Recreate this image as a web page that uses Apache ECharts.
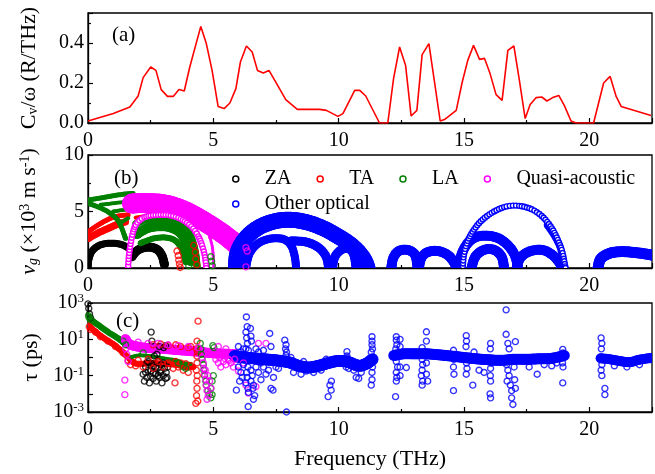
<!DOCTYPE html>
<html><head><meta charset="utf-8">
<script src="https://cdn.jsdelivr.net/npm/echarts@6/dist/echarts.min.js"></script>
<style>html,body{margin:0;padding:0;background:#fff}#c{width:655px;height:474px}</style>
</head><body><div id="c"></div>
<script>
// ---------- DATA ----------
// (a) Cv/omega vs frequency
const cvFreq = [0,1.01,1.67,2.0,2.2,2.5,2.71,2.92,3.17,3.4,3.63,3.84,4.06,4.5,4.72,4.95,5.19,5.43,5.66,5.9,6.08,6.32,6.55,6.76,6.99,7.22,7.45,7.89,8.35,9.24,9.51,9.97,10.17,10.64,10.84,11.08,11.63,11.96,12.19,12.43,12.67,12.89,13.12,13.33,13.6,14.05,14.22,14.69,14.93,15.15,15.38,15.62,15.82,16.04,16.28,16.52,16.75,16.99,17.21,17.44,17.64,17.88,18.1,18.31,18.54,18.78,19.0,19.27,19.47,20.17,20.57,20.83,21.07,21.27,22.46];
const cvVal  = [0.01,0.047,0.08,0.135,0.227,0.28,0.263,0.167,0.133,0.133,0.167,0.16,0.28,0.483,0.397,0.263,0.083,0.072,0.1,0.172,0.305,0.385,0.355,0.263,0.25,0.263,0.213,0.117,0.068,0.068,0.063,0.033,0.047,0.163,0.163,0.135,0.0,0.0,0.222,0.38,0.288,0.035,0.063,0.342,0.397,0.01,0.017,0.063,0.205,0.313,0.388,0.318,0.323,0.247,0.142,0.113,0.363,0.385,0.213,0.022,0.092,0.127,0.13,0.11,0.127,0.138,0.088,0.01,0.0,0.0,0.2,0.233,0.133,0.083,0.038];

// (b) group velocity (10^3 m/s): dense arcs of points, listed as traced arcs
const vgZA = [
  [[0.0,0.0],[0.05,0.9],[0.2,1.6],[0.5,2.05],[0.9,2.2],[1.3,2.1],[1.6,1.8]],
  [[1.75,1.0],[2.0,1.6],[2.4,1.85],[2.75,1.65],[2.95,1.1],[3.05,0.3]]
];
const vgTA = [
  [[0.0,3.2],[0.4,3.8],[0.8,4.3],[1.2,4.6],[1.6,4.7]],
  [[0.0,2.6],[0.4,3.1],[0.8,3.5],[1.2,3.9],[1.5,4.1]],
  [[1.9,4.45],[2.5,4.65],[3.2,4.6],[3.7,4.1],[4.0,3.3],[4.2,2.3],[4.33,1.2],[4.4,0.1]]
];
const vgTAPts = [[3.55,1.5],[3.6,1.1],[3.62,0.7],[3.65,0.35],[3.68,0.05],[4.22,2.0],[4.28,1.4],[4.3,0.8],[4.34,0.3]];
const vgLA = [
  [[0.0,6.0],[0.5,6.2],[1.0,6.4],[1.5,6.55],[1.8,6.6]],
  [[0.1,5.65],[0.7,5.1],[1.2,4.2],[1.5,2.6]],
  [[0.5,5.6],[1.1,5.75],[1.6,5.9]],
  [[1.0,5.0],[1.3,5.1],[1.6,5.2]],
  [[1.3,4.0],[1.45,4.2],[1.6,4.4]],
  [[1.9,3.9],[2.3,4.25],[3.0,4.35],[3.5,4.1],[3.9,3.5],[4.15,2.5],[4.3,1.2],[4.35,0.1]],
  [[1.95,3.0],[2.4,3.55],[3.0,3.7],[3.5,3.4],[3.8,2.8],[4.0,1.8],[4.1,0.6]],
  [[2.1,2.2],[2.6,2.6],[3.1,2.7],[3.5,2.4],[3.75,1.6],[3.9,0.5]]
];
const vgLAPts = [[3.95,1.4],[3.97,1.0],[4.0,0.6],[4.02,0.2],[4.9,1.0],[4.93,0.6],[4.96,0.2]];
const vgQA = [
  [[1.75,5.7],[2.2,5.75],[3.0,5.65],[3.7,5.2],[4.3,4.55],[4.9,3.75],[5.4,3.0],[5.75,2.4],[5.95,2.0]],
  [[4.85,2.8],[4.95,2.0],[5.0,1.0],[5.02,0.0]]
];
const vgQAArc = [[1.6,0.0],[1.62,0.8],[1.66,1.6],[1.72,2.4],[1.8,3.2],[1.9,3.8],[2.05,4.2],[2.25,4.5],[2.5,4.65],[2.8,4.7],[3.1,4.7],[3.4,4.6],[3.7,4.35],[3.95,4.0],[4.2,3.5],[4.4,2.8],[4.55,2.0],[4.65,1.2],[4.7,0.5],[4.72,0.0]];
const vgQAPts = [[6.3,1.8],[6.35,1.5],[6.3,0.1]];
const vgOpt = [
  [[5.9,0.0],[5.95,1.2],[6.15,2.2],[6.5,3.1],[7.0,3.8],[7.6,4.2],[8.2,4.25],[8.8,4.0],[9.4,3.5],[9.9,2.9],[10.4,2.2],[10.8,1.4],[11.05,0.6],[11.15,0.0]],
  [[6.3,0.0],[6.45,1.3],[6.8,2.2],[7.3,2.6],[7.8,2.55],[8.1,2.0],[8.25,1.0],[8.3,0.0]],
  [[8.1,2.4],[8.7,2.3],[9.2,1.8],[9.5,1.0],[9.6,0.0]],
  [[9.75,0.0],[9.85,1.0],[10.1,1.6],[10.4,1.7],[10.6,1.2],[10.7,0.0]],
  [[12.1,0.0],[12.18,0.9],[12.4,1.5],[12.75,1.6],[13.05,1.15],[13.15,0.0]],
  [[13.2,0.0],[13.3,0.9],[13.55,1.4],[13.95,1.5],[14.35,1.15],[14.6,0.5],[14.7,0.0]],
  [[18.3,3.8],[18.6,2.8],[18.85,1.6],[18.95,0.0]],
  [[14.8,0.0],[14.9,1.2],[15.15,2.2],[15.5,2.75],[15.95,2.85],[16.4,2.6],[16.8,1.9],[17.05,1.0],[17.15,0.0]],
  [[15.3,0.0],[15.45,1.0],[15.8,1.6],[16.2,1.6],[16.5,1.0],[16.6,0.0]],
  [[17.1,0.0],[17.25,0.9],[17.6,1.45],[18.1,1.6],[18.5,1.2],[18.8,0.5],[18.9,0.0]],
  [[20.35,0.0],[20.45,0.8],[20.8,1.3],[21.3,1.45],[21.9,1.35],[22.5,1.15]]
];
const vgOptArc = [[14.95,0.0],[15.0,1.2],[15.15,2.4],[15.4,3.4],[15.75,4.3],[16.2,5.0],[16.7,5.45],[17.2,5.5],[17.7,5.2],[18.1,4.6],[18.45,3.7],[18.7,2.7],[18.9,1.6],[19.0,0.6],[19.05,0.0]];

// (c) lifetime tau (ps)
const tauZA = [[0.0,900],[0.03,500],[0.06,250],[0.1,150],[2.2,0.12],[2.25,0.05],[2.3,0.3],[2.35,0.08],[2.4,0.6],[2.45,0.04],[2.5,0.18],[2.52,25],[2.55,8],[2.6,0.07],[2.62,0.35],[2.65,1.2],[2.7,0.12],[2.72,0.05],[2.78,0.25],[2.8,0.6],[2.85,0.08],[2.88,0.15],[2.92,0.4],[2.95,0.04],[3.0,0.1],[3.02,3.5],[3.05,0.25],[3.1,0.07],[3.12,0.15],[3.18,0.3],[2.3,0.15],[2.4,0.2],[2.5,0.09],[2.6,0.14],[2.7,0.3],[2.8,0.1],[2.9,0.2],[3.0,0.5],[2.35,0.5],[2.55,0.45],[2.75,1.5],[3.15,0.08],[2.85,4],[3.1,4.5]];
const tauTABand = [[0.0,70],[0.15,40],[0.4,20],[0.7,10],[1.0,5.5],[1.3,2.5],[1.6,1.0],[1.85,0.5],[2.1,0.45],[2.5,0.5],[3.0,0.45],[3.5,0.4],[3.9,0.3],[4.2,0.3]];
const tauTA = [[0.05,50],[0.1,35],[0.3,25],[0.5,14],[0.8,8],[1.1,4],[1.4,1.8],[1.6,0.7],[1.7,0.4],[1.9,0.35],[2.0,0.7],[2.2,0.3],[2.4,0.8],[2.6,0.25],[2.8,0.6],[3.0,0.3],[3.2,0.5],[3.4,0.25],[3.47,0.04],[3.5,0.6],[3.6,0.3],[3.7,0.5],[3.8,0.2],[3.9,0.45],[4.0,0.15],[4.1,0.35],[2.6,5],[2.9,5.5],[3.2,4.5],[3.5,5],[3.7,4],[4.0,3.5],[4.1,4],[4.33,3],[4.35,1.2],[4.35,0.5],[4.32,0.2],[4.36,0.1],[4.34,0.05],[4.35,0.02],[4.33,0.008],[4.38,0.004],[4.3,0.003],[4.39,100],[4.35,8],[4.37,2]];
const tauLABand1 = [[0.0,180],[0.2,100],[0.5,50],[0.8,25],[1.1,14],[1.3,9],[1.45,6]];
const tauLABand2 = [[1.7,1.0],[2.0,1.3],[2.5,1.2],[3.0,0.9],[3.5,0.7],[3.8,0.5],[4.1,0.45]];
const tauLA = [[0.02,200],[0.05,150],[0.1,120],[4.48,6],[4.5,3],[4.52,1.5],[4.55,0.8],[4.6,0.4],[4.62,0.2],[4.65,0.1],[4.7,0.05],[4.72,0.03],[4.78,0.015],[4.85,0.01],[4.9,0.006],[4.95,0.009],[4.9,0.02],[4.98,4.5],[5.02,3.5],[4.95,0.05],[5.0,0.1],[3.8,0.3],[3.9,0.25],[3.6,0.5],[2.2,1.8],[1.5,5],[1.4,8]];
const tauQABand = [[1.5,10],[1.6,6],[1.8,4.5],[2.2,3.5],[2.6,3.2],[3.0,3.0],[3.5,2.6],[4.0,2.3],[4.5,2.0],[5.0,1.7],[5.5,1.6],[5.9,1.5]];
const tauQA = [[1.47,12],[1.5,3],[1.55,1.5],[1.47,0.057],[1.47,0.009],[1.6,0.6],[2.0,7],[2.4,6],[2.8,6],[3.2,5],[3.6,4.5],[4.0,4],[4.4,3.5],[4.55,1],[4.6,0.5],[4.62,0.25],[4.65,0.12],[4.7,0.06],[4.72,0.03],[4.75,0.015],[4.8,0.008],[4.75,0.005],[4.68,0.2],[4.78,0.1],[4.85,0.05],[4.9,0.02],[5.1,0.8],[5.2,0.5],[5.3,0.3],[5.4,0.6],[5.5,0.4],[5.6,0.8],[5.7,0.5],[5.8,0.3],[5.25,1],[5.45,0.9],[5.65,0.7],[5.85,0.8],[5.2,4],[5.5,3],[6.0,0.18],[6.3,0.03],[6.4,0.011],[6.7,0.025],[6.8,6],[7.1,6],[6.2,0.5]];
const tauOptBands = [
  [[5.85,1.2],[6.2,1.0],[6.6,0.9],[7.0,0.8],[7.5,0.7],[8.0,0.55],[8.4,0.35],[8.8,0.28],[9.2,0.35],[9.6,0.5],[10.0,0.65],[10.4,0.55],[10.8,0.35],[11.1,0.45],[11.35,0.8]],
  [[12.2,1.3],[12.6,1.6],[13.0,1.6],[13.5,1.6],[14.0,1.4],[14.5,1.2],[15.0,1.0],[15.5,0.85],[16.0,0.75],[16.5,0.7],[17.0,0.8],[17.5,0.8],[18.0,0.85],[18.5,0.9],[19.0,1.3]],
  [[20.45,0.9],[20.8,0.8],[21.2,0.65],[21.6,0.55],[22.0,0.75],[22.5,0.95]]
];
const tauOpt = [[6.32,170],[6.35,50],[6.3,25],[6.33,12],[6.36,6],[6.3,3],[6.38,0.3],[6.33,0.15],[6.35,0.08],[6.3,0.04],[6.38,0.02],[6.4,0.012],[6.39,0.002],
[6.48,40],[6.5,15],[6.52,8],[6.5,0.2],[6.55,0.1],[6.5,0.05],[6.58,0.02],[6.6,0.005],[6.65,0.008],
[5.92,0.016],[6.05,0.05],[6.0,0.3],[6.1,0.15],[6.2,0.4],[6.15,0.08],[6.7,0.3],[6.8,0.15],[6.9,0.06],[7.0,0.3],[7.1,0.12],[7.2,0.2],[7.3,0.02],[7.38,0.016],[7.5,0.3],[6.0,4],[6.2,3],[6.7,3],[7.0,2.5],[6.9,0.5],[7.4,0.08],[6.6,0.03],[7.6,0.25],[6.1,2],[6.4,2.5],[6.8,2],[7.25,21],[7.3,4],
[7.85,9],[7.9,5],[7.88,3],[7.92,2],[7.9,1.3],[7.92,0.001],
[8.2,0.15],[8.5,0.12],[8.7,0.18],[9.0,0.15],[9.3,0.2],[8.1,1.0],[8.6,0.6],[9.5,0.8],
[9.58,0.007],[9.7,0.016],[9.71,0.05],[9.65,0.03],
[10.33,2.1],[10.33,1.2],[10.35,0.9],[10.3,0.3],[10.4,0.25],[10.7,0.08],[10.8,0.07],[10.6,0.2],[10.9,0.15],
[11.33,14],[11.33,8],[11.33,5],[11.35,3],[11.3,2],[11.35,0.3],[11.33,0.15],[11.33,0.06],[11.3,0.03],
[12.3,14],[12.3,9],[12.32,5],[12.28,3],[12.3,0.6],[12.35,0.3],[12.3,0.15],[12.32,0.08],[12.3,0.05],[12.27,0.007],[12.45,10],[12.45,4],[12.45,0.3],[12.45,0.1],[12.7,0.28],[12.75,1.8],
[13.33,3.5],[13.33,0.8],[13.35,0.4],[13.33,0.2],[13.3,0.1],[13.35,0.05],[13.33,0.03],[13.5,26],[13.5,8],[13.5,0.5],[13.5,0.12],[13.55,0.05],
[14.58,2.5],[14.6,0.8],[14.58,0.3],[14.6,0.12],[14.58,0.015],
[15.09,16],[15.1,8],[15.08,4],[15.1,0.5],[15.12,0.25],[15.09,0.12],[15.35,0.03],[15.4,2],[15.6,0.2],[15.8,0.15],
[16.06,6],[16.05,3],[16.08,0.5],[16.06,0.25],[16.05,0.1],[16.06,0.05],[16.04,0.01],[16.06,0.006],
[16.68,420],[16.68,19],[16.75,6],[16.8,3],[16.7,0.4],[16.75,0.2],[16.8,0.1],[16.72,0.05],[16.85,0.03],[16.9,0.015],[16.95,0.0026],[17.05,7.5],[17.0,0.3],[17.02,0.06],[17.05,0.02],[16.9,0.006],
[17.92,0.12],[17.6,0.3],[18.2,0.4],[18.5,0.35],[18.7,0.5],
[18.94,2.8],[18.95,1.8],[18.93,0.5],[18.95,0.3],[18.94,0.04],
[20.47,12],[20.5,6],[20.48,3],[20.5,0.4],[20.47,0.2],[20.5,0.1],[20.62,0.02],[20.62,0.009],
[21.0,0.35],[21.5,0.3],[22.0,0.4]];

const legendNames = ['ZA','TA','LA','Quasi-acoustic','Other optical'];
const colors = {'ZA':'#000000','TA':'#ff0000','LA':'#008000','Quasi-acoustic':'#ff00ff','Other optical':'#0000ff'};

// ---------- CHART ----------
const FONT = 'Liberation Serif';
const chart = echarts.init(document.getElementById('c'), null, {renderer:'canvas'});

// render helper: Catmull-Rom path through the pixel positions given by the axis scales, sampled every ~step px
function curve(P, step) {
  if (P.length < 2) return P;
  const out = [];
  for (let i = 0; i < P.length - 1; i++) {
    const p0 = P[Math.max(0, i - 1)], p1 = P[i], p2 = P[i + 1], p3 = P[Math.min(P.length - 1, i + 2)];
    const seg = Math.max(2, Math.ceil(Math.hypot(p2[0] - p1[0], p2[1] - p1[1]) / step));
    for (let k = 0; k < seg; k++) {
      const t = k / seg, t2 = t * t, t3 = t2 * t;
      const f = (a, b, c, d) => 0.5 * (2 * b + (-a + c) * t + (2 * a - 5 * b + 4 * c - d) * t2 + (-a + 3 * b - 3 * c + d) * t3);
      out.push([f(p0[0], p1[0], p2[0], p3[0]), f(p0[1], p1[1], p2[1], p3[1])]);
    }
  }
  out.push(P[P.length - 1]);
  return out;
}
// dense band of overlapping points: many overlapping filled discs along the traced points
function band(name, pts, w, xi) {
  return {type:'custom', name, xAxisIndex:xi, yAxisIndex:xi, data:[pts[0]], silent:true, clip:true,
    itemStyle:{color:colors[name]},
    renderItem:(params, api)=>{
      const C = curve(pts.map(p=>api.coord(p)), 1.5);
      return {type:'group', silent:true, children: C.map(c=>({type:'circle', silent:true,
        shape:{cx:c[0], cy:c[1], r:w/2}, style:{fill:colors[name], stroke:null}}))};
    }};
}
// a visible rim of touching hollow circles
function dotted(name, pts, xi) {
  return {type:'custom', name, xAxisIndex:xi, yAxisIndex:xi, data:[pts[0]], silent:true, clip:true,
    itemStyle:{color:colors[name]},
    renderItem:(params, api)=>{
      const C = curve(pts.map(p=>api.coord(p)), 3.2);
      return {type:'group', silent:true, children: C.map(c=>({type:'circle', silent:true,
        shape:{cx:c[0], cy:c[1], r:2.5}, style:{fill:'#ffffff', stroke:colors[name], lineWidth:1.4}}))};
    }};
}
function scat(name, pts, xi) {
  return {type:'scatter', name, xAxisIndex:xi, yAxisIndex:xi, data:pts, symbol:'circle', symbolSize:6, silent:true,
    emphasis:{disabled:true},
    itemStyle:{color:'rgba(255,255,255,0)', borderColor:colors[name], borderWidth:1.4}};
}

const series = [];
// (a)
series.push({type:'line', xAxisIndex:0, yAxisIndex:0, data:cvFreq.map((f,i)=>[f,cvVal[i]]), symbol:'none', showSymbol:false,
  lineStyle:{color:'#ff0000', width:1.6}, silent:true});
// (b)
const wZA=[7,9], wTA=[5,7,4], wLA=[5,5,4,4,4,7,10,6], wQA=[20,3], wOpt=[16,8,9,9,10,10,6,10,10,10,11];
vgZA.forEach((b,i)=>series.push(band('ZA', b, wZA[i], 1)));
vgTA.forEach((b,i)=>series.push(band('TA', b, wTA[i], 1)));
series.push(scat('TA', vgTAPts, 1));
vgLA.forEach((b,i)=>series.push(band('LA', b, wLA[i], 1)));
series.push(scat('LA', vgLAPts, 1));
vgQA.forEach((b,i)=>series.push(band('Quasi-acoustic', b, wQA[i], 1)));
series.push(dotted('Quasi-acoustic', vgQAArc, 1));
series.push(scat('Quasi-acoustic', vgQAPts, 1));
vgOpt.forEach((b,i)=>series.push(band('Other optical', b, wOpt[i], 1)));
series.push(dotted('Other optical', vgOptArc, 1));
// (c)
series.push(scat('ZA', tauZA, 2));
series.push(band('TA', tauTABand, 6, 2));
series.push(scat('TA', tauTA, 2));
series.push(band('LA', tauLABand1, 6, 2));
series.push(band('LA', tauLABand2, 4, 2));
series.push(scat('LA', tauLA, 2));
series.push(band('Quasi-acoustic', tauQABand, 10, 2));
series.push(scat('Quasi-acoustic', tauQA, 2));
tauOptBands.forEach((b,i)=>series.push(band('Other optical', b, [12,11,10][i], 2)));
series.push(scat('Other optical', tauOpt, 2));

const axisCommon = {
  axisLine:{show:true, onZero:false, lineStyle:{color:'#000', width:1.3}},
  axisTick:{show:true, inside:true, length:5, lineStyle:{color:'#000', width:1.2}},
  minorTick:{show:true, splitNumber:2, length:3, lineStyle:{color:'#000', width:1.2}},
  splitLine:{show:false}, minorSplitLine:{show:false},
  axisLabel:{fontFamily:FONT, fontSize:20, color:'#000', showMaxLabel:false}
};
function xAx(i, extra) {
  return Object.assign({type:'value', gridIndex:i, min:0, max:22.5, interval:5}, JSON.parse(JSON.stringify(axisCommon)), extra||{});
}
const xAxes = [xAx(0), xAx(1), xAx(2, {name:'Frequency (THz)', nameLocation:'middle', nameGap:36,
  nameTextStyle:{fontFamily:FONT, fontSize:22, color:'#000'}})];
xAxes.forEach(a=>{a.axisLabel.margin=8;});

const nameStyle = (rich)=>({fontFamily:FONT, fontSize:22, color:'#000', rich});
const yA = Object.assign({type:'value', gridIndex:0, min:0, max:0.55, interval:0.2}, JSON.parse(JSON.stringify(axisCommon)));
yA.axisLabel.formatter = v=>v.toFixed(1); yA.axisLabel.margin = 4;
yA.name = 'C{sub|v}/ω (R/THz)'; yA.nameLocation='middle'; yA.nameGap=48; yA.nameRotate=90;
yA.nameTextStyle = nameStyle({sub:{fontFamily:FONT, fontSize:14, verticalAlign:'bottom', lineHeight:22, padding:[8,0,0,0]}});
const yB = Object.assign({type:'value', gridIndex:1, min:0, max:10, interval:5}, JSON.parse(JSON.stringify(axisCommon)));
yB.axisLabel.showMaxLabel = true; yB.axisLabel.margin = 4;
yB.name = '{i|v}{isub|g} (×10{sup|3} m s{sup|-1})'; yB.nameLocation='middle'; yB.nameGap=48; yB.nameRotate=90;
yB.nameTextStyle = nameStyle({
  i:{fontFamily:FONT, fontSize:22, fontStyle:'italic'},
  isub:{fontFamily:FONT, fontSize:14, fontStyle:'italic', verticalAlign:'bottom', padding:[8,0,0,0]},
  sup:{fontFamily:FONT, fontSize:14, verticalAlign:'top', padding:[0,0,8,0]}});
const yC = Object.assign({type:'log', logBase:10, gridIndex:2, min:0.001, max:1000, splitNumber:6}, JSON.parse(JSON.stringify(axisCommon)));
yC.minorTick = {show:false};
yC.axisLabel.showMaxLabel = true; yC.axisLabel.margin = 4;
yC.axisLabel.formatter = v=>{const e=Math.round(Math.log10(v)); return (e%2===0)?'':'10{s|'+e+'}';};
yC.axisLabel.rich = {s:{fontFamily:FONT, fontSize:13, verticalAlign:'top', padding:[0,0,9,0]}};
yC.name = 'τ (ps)'; yC.nameLocation='middle'; yC.nameGap=46; yC.nameRotate=90;
yC.nameTextStyle = nameStyle({});

const legendData = legendNames.map(n=>({name:n, icon:'circle',
  itemStyle:{color:'#ffffff', borderColor:colors[n], borderWidth:1.5, opacity:1}}));
const legStyle = {orient:'horizontal', itemWidth:30, itemHeight:6, itemGap:25, selectedMode:false,
  textStyle:{fontFamily:FONT, fontSize:20, color:'#000', padding:[0,0,0,9]}};

const option = {
  animation:false,
  textStyle:{fontFamily:FONT},
  grid:[
    {left:88, top:13, width:564, height:110, show:true, borderColor:'#000', borderWidth:1.3, containLabel:false},
    {left:88, top:155, width:564, height:113, show:true, borderColor:'#000', borderWidth:1.3, containLabel:false},
    {left:88, top:303, width:564, height:109, show:true, borderColor:'#000', borderWidth:1.3, containLabel:false}
  ],
  title:[
    {text:'(a)', left:107, top:20, textStyle:{fontFamily:FONT, fontSize:21, fontWeight:'normal', color:'#000'}},
    {text:'(b)', left:109, top:163, textStyle:{fontFamily:FONT, fontSize:21, fontWeight:'normal', color:'#000'}},
    {text:'(c)', left:111, top:306, textStyle:{fontFamily:FONT, fontSize:21, fontWeight:'normal', color:'#000'}}
  ],
  legend:[
    Object.assign({left:227, top:164, data:legendData.slice(0,4)}, legStyle),
    Object.assign({left:227, top:189, data:legendData.slice(4)}, legStyle)
  ],
  xAxis:xAxes,
  yAxis:[yA,yB,yC],
  series
};
chart.setOption(option);
</script>
</body></html>
